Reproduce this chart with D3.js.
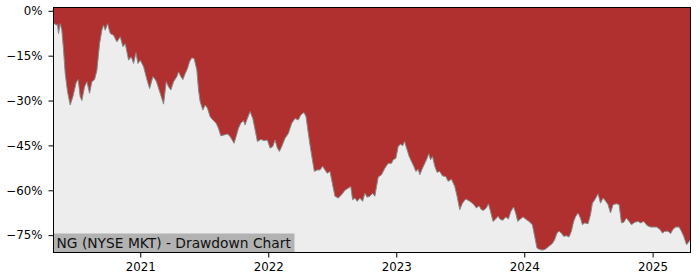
<!DOCTYPE html>
<html>
<head>
<meta charset="utf-8">
<script src="https://cdn.jsdelivr.net/npm/d3@7"></script>
<style>
  body{margin:0;background:#fff;}
  svg{display:block;font-family:"DejaVu Sans",sans-serif;}
</style>
</head>
<body>
<div id="chart"></div>
<script>
const width=700;
const height=280;

//Drawdown data (time as decimal year, value in %)
const yearPos=[2020.324,2020.345,2020.355,2020.363,2020.376,2020.389,2020.402,2020.415,2020.433,2020.454,
  2020.475,2020.501,2020.516,2020.532,2020.545,2020.566,2020.584,2020.605,2020.623,2020.644,
  2020.662,2020.683,2020.701,2020.714,2020.727,2020.745,2020.766,2020.792,2020.818,2020.844,
  2020.865,2020.883,2020.909,2020.930,2020.948,2020.966,2020.982,2021.000,2021.026,2021.052,
  2021.073,2021.099,2021.125,2021.156,2021.182,2021.203,2021.221,2021.239,2021.260,2021.286,
  2021.299,2021.317,2021.333,2021.351,2021.369,2021.385,2021.403,2021.421,2021.442,2021.455,
  2021.468,2021.489,2021.507,2021.525,2021.546,2021.567,2021.593,2021.611,2021.629,2021.655,
  2021.681,2021.702,2021.715,2021.733,2021.749,2021.767,2021.785,2021.806,2021.819,2021.832,
  2021.858,2021.879,2021.897,2021.915,2021.942,2021.967,2021.993,2022.014,2022.035,2022.053,
  2022.071,2022.087,2022.105,2022.131,2022.157,2022.183,2022.209,2022.235,2022.254,2022.279,
  2022.295,2022.313,2022.332,2022.347,2022.360,2022.383,2022.404,2022.425,2022.443,2022.461,
  2022.482,2022.503,2022.521,2022.547,2022.573,2022.599,2022.625,2022.644,2022.659,2022.677,
  2022.695,2022.716,2022.737,2022.755,2022.773,2022.794,2022.815,2022.833,2022.846,2022.859,
  2022.885,2022.911,2022.937,2022.963,2022.976,2022.997,2023.015,2023.034,2023.049,2023.065,
  2023.080,2023.101,2023.119,2023.137,2023.153,2023.171,2023.184,2023.205,2023.223,2023.241,
  2023.254,2023.268,2023.283,2023.301,2023.319,2023.340,2023.361,2023.387,2023.405,2023.431,
  2023.457,2023.475,2023.496,2023.517,2023.543,2023.574,2023.600,2023.626,2023.647,2023.665,
  2023.683,2023.704,2023.720,2023.736,2023.756,2023.777,2023.795,2023.814,2023.834,2023.855,
  2023.876,2023.896,2023.917,2023.933,2023.949,2023.970,2023.990,2024.016,2024.037,2024.063,
  2024.081,2024.099,2024.120,2024.146,2024.167,2024.193,2024.219,2024.237,2024.255,2024.271,
  2024.289,2024.307,2024.328,2024.349,2024.367,2024.385,2024.401,2024.419,2024.438,2024.453,
  2024.471,2024.497,2024.516,2024.531,2024.549,2024.575,2024.594,2024.614,2024.635,2024.653,
  2024.672,2024.692,2024.718,2024.739,2024.757,2024.775,2024.796,2024.817,2024.835,2024.861,
  2024.887,2024.906,2024.931,2024.957,2024.984,2025.004,2025.030,2025.056,2025.077,2025.095,
  2025.121,2025.140,2025.160,2025.181,2025.207,2025.225,2025.243,2025.265,2025.285,2025.296];
const drawdown=[-4.0,-4.8,-4.5,-7.6,-4.3,-6.5,-13,-21,-27,-31.5,
  -28.7,-24,-23,-28.7,-30,-25.4,-23.7,-27.6,-23.7,-23,
  -20,-11,-6.5,-4.8,-6.5,-4.3,-7.6,-8.2,-10.4,-8.7,
  -12,-11,-16.5,-15.4,-17.6,-14,-17.6,-16.5,-18.7,-23,
  -26,-22,-23.5,-27.6,-31.2,-23.7,-25.4,-26.5,-23.7,-22,
  -20.4,-22,-23,-21,-19.3,-17,-15.7,-16,-19.8,-26.5,
  -30.4,-33.2,-31.5,-32.6,-35.4,-36.5,-37.6,-39.3,-41.8,-41.5,
  -41.2,-42,-43,-44.3,-42,-39.3,-37.6,-36.7,-38.2,-36.5,
  -33.7,-36,-39.8,-43.7,-43,-43.4,-43.2,-45.9,-45.4,-43.2,
  -45.9,-47,-45.4,-42.6,-41,-37.6,-36,-36.5,-34.8,-34,
  -35.4,-41,-46.5,-50.4,-53.7,-53.2,-53.2,-52,-53.2,-54.3,
  -53.7,-58.2,-62,-62.6,-61.5,-60,-59.3,-58.7,-63.2,-62.6,
  -63.7,-62.6,-63.7,-61,-62.3,-62,-61,-62,-58.7,-55.6,
  -54.8,-52.6,-51,-51,-49.8,-49.3,-45.4,-44.5,-45.2,-43.7,
  -45.9,-48.7,-50.4,-52,-53.7,-53,-54.8,-52.6,-51,-49.3,
  -47.8,-49.8,-48.7,-52,-54,-53.7,-55.2,-55.4,-57,-56.3,
  -58.7,-62,-66.5,-64.3,-62.9,-63.7,-64.5,-65.9,-65.2,-66.5,
  -66.7,-65.9,-64.5,-67,-70.4,-69.6,-68.7,-69.8,-70,-68.9,
  -69.6,-67,-65.6,-67.6,-70.4,-69.6,-68.9,-69.8,-70.4,-71.5,
  -75.4,-79.3,-79.8,-80,-79.6,-78.7,-77.8,-76.5,-74.3,-73.7,
  -74.3,-75.4,-75.2,-75.6,-73.7,-70.4,-68.7,-67.6,-69.3,-71.5,
  -70.9,-71.2,-68.2,-64.3,-63.2,-61.2,-64.3,-62.6,-63.7,-64.8,
  -67.6,-64.8,-64.5,-64.8,-70.9,-70.7,-69.3,-70.4,-71.5,-70.7,
  -70.4,-70.9,-70.4,-71.8,-72.3,-72.3,-72.3,-73,-74.3,-73.7,
  -73.7,-74.5,-73,-72.3,-72.3,-73.7,-75.4,-78.2,-77.1,-76.5];
const yTicks=[0,-15,-30,-45,-60,-75];
const xTickYears=[2021,2022,2023,2024,2025];
const title="NG (NYSE MKT) - Drawdown Chart";

//decimal year -> UTC date
function toDate(t){
  const y=Math.floor(t);
  const s=Date.UTC(y,0,1), e=Date.UTC(y+1,0,1);
  return new Date(s+(t-y)*(e-s));
}
const data=yearPos.map((t,i)=>({date:toDate(t),value:drawdown[i]}));

const margin={left:53.5,right:9.5,top:7.5,bottom:27.5};
const plotW=width-margin.left-margin.right;
const plotH=height-margin.top-margin.bottom;

const svg=d3.select("#chart")
  .append("svg")
  .attr("width",width)
  .attr("height",height);

const x=d3.scaleUtc()
  .domain(d3.extent(data,d=>d.date))
  .range([margin.left,margin.left+plotW]);
const y=d3.scaleLinear()
  .domain([-80.8,1.1])
  .range([margin.top+plotH,margin.top]);

//red background = drawdown region
svg.append("rect")
  .attr("x",margin.left).attr("y",margin.top)
  .attr("width",plotW).attr("height",plotH)
  .attr("fill","#b03030");

//light area under the curve
const area=d3.area()
  .x(d=>x(d.date))
  .y0(margin.top+plotH)
  .y1(d=>y(d.value));
svg.append("path")
  .datum(data)
  .attr("d",area)
  .attr("fill","#ededed");

const line=d3.line()
  .x(d=>x(d.date))
  .y(d=>y(d.value));
svg.append("path")
  .datum(data)
  .attr("d",line)
  .attr("fill","none")
  .attr("stroke","#8a8a8a")
  .attr("stroke-width",1);

//title box bottom left
const label=svg.append("g");
const labelText=label.append("text")
  .attr("x",margin.left+3)
  .attr("y",margin.top+plotH-5)
  .attr("font-size",13.8)
  .attr("fill","#111")
  .text(title);
const bb=labelText.node().getBBox();
label.insert("rect","text")
  .attr("x",margin.left)
  .attr("y",margin.top+plotH-19)
  .attr("width",bb.width+6)
  .attr("height",19)
  .attr("fill","#b2b2b2");

//axes
const yAxis=d3.axisLeft(y)
  .tickValues(yTicks)
  .tickSize(5)
  .tickPadding(6)
  .tickFormat(d=>(d<0?"\u2212"+(-d):d)+"%");
const xAxis=d3.axisBottom(x)
  .tickValues(xTickYears.map(v=>new Date(Date.UTC(v,0,1))))
  .tickSize(5)
  .tickPadding(5.5)
  .tickFormat(d3.utcFormat("%Y"));

const gy=svg.append("g")
  .attr("transform",`translate(${margin.left},0)`)
  .call(yAxis);
const gx=svg.append("g")
  .attr("transform",`translate(0,${margin.top+plotH})`)
  .call(xAxis);
[gx,gy].forEach(g=>{
  g.select(".domain").remove();
  g.selectAll("text").attr("font-size",11.8).attr("fill","#000").attr("font-family","DejaVu Sans");
  g.selectAll("line").attr("stroke","#000");
});

//frame
svg.append("rect")
  .attr("x",margin.left).attr("y",margin.top)
  .attr("width",plotW).attr("height",plotH)
  .attr("fill","none")
  .attr("stroke","#000")
  .attr("stroke-width",1);
</script>
</body>
</html>
